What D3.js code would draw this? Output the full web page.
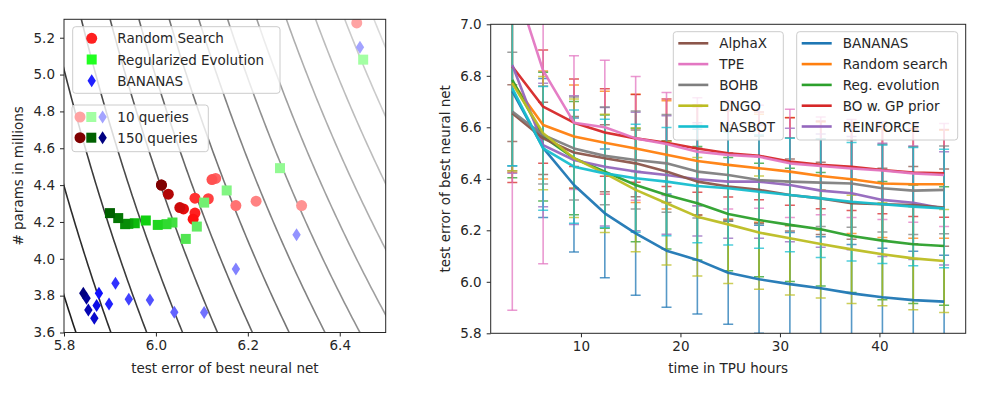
<!DOCTYPE html>
<html>
<head>
<meta charset="utf-8">
<script src="https://cdn.jsdelivr.net/npm/d3@7"></script>
<style>
  body { margin: 0; background: #fff; }
  svg text { font-family: "DejaVu Sans", sans-serif; fill: #262626; }
  .tick text { font-size: 13.5px; }
  .tick line { stroke: #262626; }
  .domain { display: none; }
</style>
</head>
<body>
<div id="chart"></div>
<script>
// ---------- left panel data (best arch after 10..150 queries) ----------
const queries = [10, 20, 30, 40, 50, 60, 70, 80, 90, 100, 110, 120, 130, 140, 150];

const rsError  = [6.437, 6.317, 6.218, 6.174, 6.130, 6.122, 6.114, 6.085, 6.085, 6.081, 6.060, 6.052, 6.027, 6.012, 6.012];
const rsParams = [5.280, 4.289, 4.313, 4.289, 4.436, 4.430, 4.326, 4.329, 4.248, 4.215, 4.271, 4.278, 4.351, 4.400, 4.400];

const reError  = [6.451, 6.270, 6.154, 6.105, 6.089, 6.065, 6.036, 6.023, 6.004, 5.978, 5.954, 5.940, 5.933, 5.918, 5.900];
const reParams = [5.081, 4.492, 4.371, 4.305, 4.175, 4.108, 4.197, 4.188, 4.184, 4.208, 4.193, 4.190, 4.188, 4.221, 4.248];

const bnError  = [6.444, 6.306, 6.174, 6.105, 6.040, 5.987, 5.941, 5.912, 5.898, 5.876, 5.871, 5.866, 5.853, 5.849, 5.842];
const bnParams = [5.148, 4.130, 3.945, 3.708, 3.710, 3.777, 3.780, 3.867, 3.755, 3.813, 3.746, 3.677, 3.722, 3.786, 3.813];

// error where each background iso-line meets the bottom of the panel (3.6M params)
const isoLevels = [5.826, 5.902, 5.980, 6.058, 6.134, 6.210, 6.290, 6.368, 6.444, 6.521, 6.599, 6.676, 6.753, 6.830];

const leftXTicks = [5.8, 6.0, 6.2, 6.4];
const leftYTicks = [3.6, 3.8, 4.0, 4.2, 4.4, 4.6, 4.8, 5.0, 5.2];

// ---------- right panel data (mean and std of best test error) ----------
const times = [3.1, 6.2, 9.3, 12.4, 15.5, 18.6, 21.7, 24.8, 27.9, 31.0, 34.1, 37.2, 40.3, 43.4, 46.5];

const alphaxMean    = [6.655, 6.557, 6.502, 6.480, 6.460, 6.428, 6.389, 6.370, 6.357, 6.337, 6.324, 6.305, 6.301, 6.298, 6.288];
const tpeMean       = [7.190, 6.820, 6.618, 6.600, 6.557, 6.535, 6.505, 6.493, 6.486, 6.460, 6.450, 6.440, 6.432, 6.421, 6.415];
const bohbMean      = [6.661, 6.570, 6.518, 6.489, 6.473, 6.460, 6.428, 6.415, 6.395, 6.389, 6.385, 6.382, 6.363, 6.354, 6.357];
const dngoMean      = [6.771, 6.577, 6.480, 6.421, 6.357, 6.305, 6.253, 6.223, 6.191, 6.169, 6.147, 6.126, 6.107, 6.091, 6.081];
const nasbotMean    = [6.751, 6.518, 6.447, 6.421, 6.402, 6.389, 6.372, 6.363, 6.350, 6.337, 6.324, 6.311, 6.301, 6.292, 6.285];
const bananasMean   = [6.740, 6.520, 6.376, 6.266, 6.188, 6.121, 6.085, 6.035, 6.010, 5.991, 5.975, 5.955, 5.940, 5.929, 5.923];
const randomMean    = [6.775, 6.609, 6.564, 6.540, 6.518, 6.493, 6.469, 6.454, 6.441, 6.428, 6.411, 6.398, 6.382, 6.379, 6.379];
const regevoMean    = [6.784, 6.564, 6.480, 6.428, 6.376, 6.337, 6.305, 6.263, 6.240, 6.221, 6.204, 6.178, 6.160, 6.146, 6.139];
const bogpMean      = [6.836, 6.680, 6.618, 6.580, 6.557, 6.540, 6.518, 6.499, 6.489, 6.467, 6.454, 6.447, 6.434, 6.424, 6.421];
const reinforceMean = [6.842, 6.531, 6.473, 6.447, 6.428, 6.415, 6.398, 6.389, 6.389, 6.376, 6.354, 6.344, 6.318, 6.307, 6.285];

const alphaxStd    = [0.11, 0.14, 0.14, 0.13, 0.13, 0.12, 0.13, 0.13, 0.13, 0.14, 0.14, 0.14, 0.14, 0.15, 0.15];
const tpeStd       = [1.30, 0.75, 0.26, 0.26, 0.24, 0.20, 0.21, 0.21, 0.20, 0.21, 0.19, 0.19, 0.19, 0.19, 0.20];
const bohbStd      = [0.23, 0.19, 0.20, 0.19, 0.19, 0.19, 0.18, 0.18, 0.17, 0.17, 0.17, 0.17, 0.17, 0.17, 0.17];
const dngoStd      = [0.34, 0.22, 0.23, 0.23, 0.24, 0.24, 0.23, 0.23, 0.22, 0.22, 0.21, 0.21, 0.20, 0.20, 0.20];
const nasbotStd    = [0.30, 0.24, 0.22, 0.21, 0.21, 0.21, 0.22, 0.22, 0.22, 0.22, 0.23, 0.23, 0.23, 0.23, 0.23];
const bananasStd   = [0.29, 0.27, 0.26, 0.25, 0.24, 0.22, 0.21, 0.20, 0.21, 0.20, 0.20, 0.19, 0.19, 0.19, 0.18];
const randomStd    = [0.35, 0.21, 0.20, 0.20, 0.21, 0.21, 0.21, 0.21, 0.21, 0.21, 0.21, 0.21, 0.21, 0.21, 0.21];
const regevoStd    = [0.38, 0.25, 0.22, 0.22, 0.22, 0.21, 0.22, 0.22, 0.22, 0.22, 0.22, 0.22, 0.23, 0.23, 0.23];
const bogpStd      = [0.45, 0.22, 0.17, 0.17, 0.17, 0.17, 0.17, 0.17, 0.17, 0.17, 0.17, 0.17, 0.17, 0.17, 0.17];
const reinforceStd = [0.42, 0.24, 0.25, 0.23, 0.23, 0.23, 0.22, 0.22, 0.22, 0.22, 0.22, 0.22, 0.22, 0.22, 0.22];

const rightXTicks = [10, 20, 30, 40];
const rightYTicks = [5.8, 6.0, 6.2, 6.4, 6.6, 6.8, 7.0];

// ---------- layout ----------
const W = 985, H = 398;
const LP = { left: 64, right: 385.7, top: 19.3, bottom: 332.5 };
const RP = { left: 490.7, right: 965.7, top: 24.3, bottom: 333.3 };

const svg = d3.select('#chart').append('svg')
  .attr('width', W).attr('height', H)
  .attr('viewBox', `0 0 ${W} ${H}`);

const defs = svg.append('defs');
defs.append('clipPath').attr('id', 'clipL').append('rect')
  .attr('x', LP.left).attr('y', LP.top).attr('width', LP.right - LP.left).attr('height', LP.bottom - LP.top);
defs.append('clipPath').attr('id', 'clipR').append('rect')
  .attr('x', RP.left).attr('y', RP.top).attr('width', RP.right - RP.left).attr('height', RP.bottom - RP.top);

// =================== LEFT PANEL ===================
const lx = d3.scaleLinear().domain([5.8, 6.5]).range([LP.left, LP.right]);
const ly = d3.scaleLinear().domain([3.6, 5.3]).range([LP.bottom, LP.top]);

// background iso-lines of the combined objective: (err - E0) * exp(G(params)) = const
const E0 = 4.801, GA = 0.13, GB = -0.0098;
const pSamples = d3.range(3.6, 5.31, 0.02);
const isoOpacity = d3.scaleLinear().domain([0, isoLevels.length - 1]).range([0.88, 0.15]);
const isoLine = lev => d3.line()
  .x(p => lx(E0 + (lev - E0) * Math.exp(-(GA * (p - 3.6) + GB * (p - 3.6) ** 2))))
  .y(p => ly(p))(pSamples);

const gIso = svg.append('g').attr('clip-path', 'url(#clipL)');
isoLevels.forEach((lev, i) => {
  gIso.append('path')
    .attr('d', isoLine(lev))
    .attr('fill', 'none')
    .attr('stroke', '#000')
    .attr('stroke-opacity', isoOpacity(i))
    .attr('stroke-width', 1.6);
});

// marker shapes
const diamondPath = 'M0,-6.5L4.2,0L0,6.5L-4.2,0Z';
function drawMarker(g, kind, x, y, color) {
  if (kind === 'circle') {
    g.append('circle').attr('cx', x).attr('cy', y).attr('r', 5.5).attr('fill', color);
  } else if (kind === 'square') {
    g.append('rect').attr('x', x - 5).attr('y', y - 5).attr('width', 10).attr('height', 10).attr('fill', color);
  } else {
    g.append('path').attr('d', diamondPath).attr('transform', `translate(${x},${y})`).attr('fill', color);
  }
}

const methods = [
  { name: 'Random Search', kind: 'circle', err: rsError, par: rsParams,
    color: d3.scaleLinear().domain([10, 100, 150]).range(['#ffa3a3', '#ff1010', '#7f0000']), legend: '#ff2020' },
  { name: 'Regularized Evolution', kind: 'square', err: reError, par: reParams,
    color: d3.scaleLinear().domain([10, 100, 150]).range(['#a3ffa3', '#10d010', '#006000']), legend: '#20ff20' },
  { name: 'BANANAS', kind: 'diamond', err: bnError, par: bnParams,
    color: d3.scaleLinear().domain([10, 100, 150]).range(['#a3a3ff', '#1010ff', '#000080']), legend: '#2020ff' }
];

const gPts = svg.append('g').attr('clip-path', 'url(#clipL)');
methods.forEach(m => {
  queries.forEach((q, i) => drawMarker(gPts, m.kind, lx(m.err[i]), ly(m.par[i]), m.color(q)));
});

// axes
svg.append('g').attr('transform', `translate(0,${LP.bottom})`)
  .call(d3.axisBottom(lx).tickValues(leftXTicks).tickFormat(d3.format('.1f')).tickSize(4).tickPadding(4));
svg.append('g').attr('transform', `translate(${LP.left},0)`)
  .call(d3.axisLeft(ly).tickValues(leftYTicks).tickFormat(d3.format('.1f')).tickSize(4).tickPadding(5));
svg.append('rect')
  .attr('x', LP.left).attr('y', LP.top).attr('width', LP.right - LP.left).attr('height', LP.bottom - LP.top)
  .attr('fill', 'none').attr('stroke', '#262626').attr('stroke-width', 1);

svg.append('text').attr('x', (LP.left + LP.right) / 2).attr('y', 373)
  .attr('text-anchor', 'middle').style('font-size', '13.5px').text('test error of best neural net');
svg.append('text').attr('transform', `translate(23,${(LP.top + LP.bottom) / 2}) rotate(-90)`)
  .attr('text-anchor', 'middle').style('font-size', '13.5px').text('# params in millions');

// legends
function legendBox(x, y, w, h) {
  svg.append('rect').attr('x', x).attr('y', y).attr('width', w).attr('height', h)
    .attr('rx', 3).attr('fill', '#fff').attr('fill-opacity', 0.8)
    .attr('stroke', '#cccccc').attr('stroke-width', 1);
}
legendBox(72.7, 26.7, 207.3, 66.6);
methods.forEach((m, i) => {
  const yy = 38.3 + i * 21.2;
  drawMarker(svg, m.kind, 91.7, yy, m.legend);
  svg.append('text').attr('x', 117.3).attr('y', yy + 5).style('font-size', '13.5px').text(m.name);
});

legendBox(72, 105, 136.3, 46.7);
[10, 150].forEach((q, i) => {
  const yy = 117 + i * 20.7;
  methods.forEach((m, j) => drawMarker(svg, m.kind, 80 + j * 11.3, yy, m.color(q)));
  svg.append('text').attr('x', 117.3).attr('y', yy + 5).style('font-size', '13.5px').text(`${q} queries`);
});

// =================== RIGHT PANEL ===================
const rx = d3.scaleLinear().domain([0.93, 48.67]).range([RP.left, RP.right]);
const ry = d3.scaleLinear().domain([5.8, 7.0]).range([RP.bottom, RP.top]);

const series = [
  { name: 'BANANAS', color: '#1f77b4', mean: bananasMean, std: bananasStd },
  { name: 'Random search', color: '#ff7f0e', mean: randomMean, std: randomStd },
  { name: 'Reg. evolution', color: '#2ca02c', mean: regevoMean, std: regevoStd },
  { name: 'BO w. GP prior', color: '#d62728', mean: bogpMean, std: bogpStd },
  { name: 'REINFORCE', color: '#9467bd', mean: reinforceMean, std: reinforceStd },
  { name: 'AlphaX', color: '#8c564b', mean: alphaxMean, std: alphaxStd },
  { name: 'TPE', color: '#e377c2', mean: tpeMean, std: tpeStd },
  { name: 'BOHB', color: '#7f7f7f', mean: bohbMean, std: bohbStd },
  { name: 'DNGO', color: '#bcbd22', mean: dngoMean, std: dngoStd },
  { name: 'NASBOT', color: '#17becf', mean: nasbotMean, std: nasbotStd }
];

const gR = svg.append('g').attr('clip-path', 'url(#clipR)');
const capW = 5;

// error bars first
series.forEach(s => {
  const gb = gR.append('g').attr('stroke', s.color).attr('stroke-opacity', 0.75).attr('fill', 'none');
  times.forEach((t, i) => {
    const x = rx(t), lo = ry(s.mean[i] - s.std[i]), hi = ry(s.mean[i] + s.std[i]);
    gb.append('line').attr('x1', x).attr('x2', x).attr('y1', lo).attr('y2', hi).attr('stroke-width', 1.6);
    gb.append('line').attr('x1', x - capW).attr('x2', x + capW).attr('y1', lo).attr('y2', lo).attr('stroke-width', 1.5);
    gb.append('line').attr('x1', x - capW).attr('x2', x + capW).attr('y1', hi).attr('y2', hi).attr('stroke-width', 1.5);
  });
});

// mean curves on top
const meanLine = d3.line().x((d, i) => rx(times[i])).y(d => ry(d));
series.forEach(s => {
  gR.append('path').attr('d', meanLine(s.mean))
    .attr('fill', 'none').attr('stroke', s.color).attr('stroke-width', 2.6)
    .attr('stroke-linejoin', 'round').attr('stroke-opacity', 0.95);
});

svg.append('g').attr('transform', `translate(0,${RP.bottom})`)
  .call(d3.axisBottom(rx).tickValues(rightXTicks).tickSize(4).tickPadding(4));
svg.append('g').attr('transform', `translate(${RP.left},0)`)
  .call(d3.axisLeft(ry).tickValues(rightYTicks).tickFormat(d3.format('.1f')).tickSize(4).tickPadding(5));
svg.append('rect')
  .attr('x', RP.left).attr('y', RP.top).attr('width', RP.right - RP.left).attr('height', RP.bottom - RP.top)
  .attr('fill', 'none').attr('stroke', '#262626').attr('stroke-width', 1);

svg.append('text').attr('x', (RP.left + RP.right) / 2).attr('y', 373)
  .attr('text-anchor', 'middle').style('font-size', '13.5px').text('time in TPU hours');
svg.append('text').attr('transform', `translate(450,${(RP.top + RP.bottom) / 2}) rotate(-90)`)
  .attr('text-anchor', 'middle').style('font-size', '13.5px').text('test error of best neural net');

// two legend boxes: left-legend group and right-legend group
const legCols = [
  { box: [673.3, 31.7, 110, 108.3], items: series.slice(5) },
  { box: [796.7, 31.7, 161, 108.3], items: series.slice(0, 5) }
];
legCols.forEach(col => {
  const [bx, by, bw, bh] = col.box;
  legendBox(bx, by, bw, bh);
  col.items.forEach((s, i) => {
    const yy = 43.3 + i * 20.8;
    svg.append('line').attr('x1', bx + 5).attr('x2', bx + 35).attr('y1', yy).attr('y2', yy)
      .attr('stroke', s.color).attr('stroke-width', 2.6);
    svg.append('text').attr('x', bx + 46).attr('y', yy + 5).style('font-size', '13.5px').text(s.name);
  });
});
</script>
</body>
</html>
